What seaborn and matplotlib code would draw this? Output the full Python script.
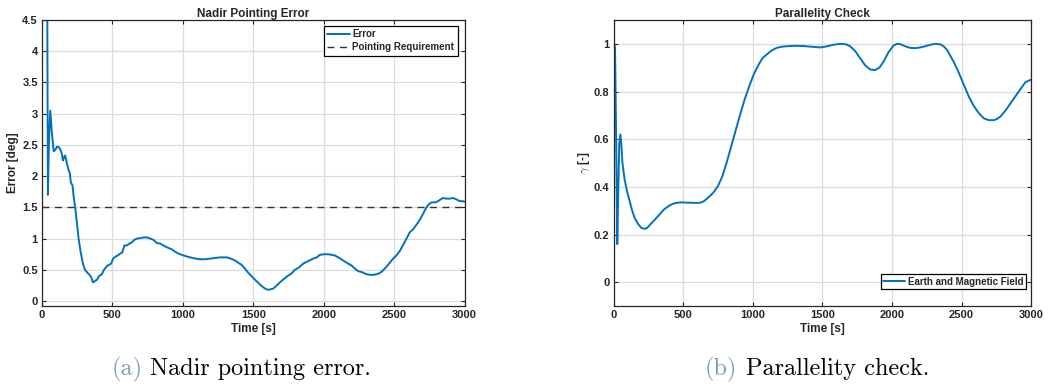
import numpy as np
import pandas as pd
import matplotlib
matplotlib.use("Agg")
import matplotlib.pyplot as plt
import seaborn as sns

# ---- data ----
t_err = [36, 38, 42, 50, 59, 70, 83, 95, 106, 115, 125, 135, 142, 149, 157, 165, 172, 177, 189,
         198, 205, 217, 226, 236, 248, 260, 275, 291, 305, 324, 338, 350, 361, 375, 390, 405, 425,
         440, 461, 475, 491, 505, 520, 538, 555, 570, 585, 602, 620, 638, 655, 673, 700, 725, 744,
         770, 791, 815, 839, 870, 898, 920, 945, 970, 992, 1020, 1051, 1090, 1122, 1160, 1193,
         1230, 1264, 1290, 1311, 1340, 1370, 1395, 1417, 1440, 1465, 1500, 1535, 1560, 1583,
         1606, 1625, 1642, 1665, 1689, 1720, 1748, 1770, 1795, 1825, 1854, 1890, 1925, 1950,
         1972, 2000, 2031, 2055, 2079, 2110, 2138, 2165, 2197, 2220, 2244, 2275, 2303, 2330,
         2350, 2375, 2398, 2420, 2445, 2470, 2492, 2515, 2539, 2563, 2587, 2610, 2634, 2657,
         2681, 2705, 2728, 2746, 2764, 2790, 2811, 2830, 2846, 2870, 2894, 2917, 2940, 2965,
         2985, 3000]
err = [4.6, 4.5, 1.70, 2.6, 3.05, 2.7, 2.40, 2.42, 2.47, 2.47, 2.45, 2.40, 2.35, 2.25, 2.30,
       2.33, 2.25, 2.20, 2.10, 2.05, 1.90, 1.85, 1.65, 1.50, 1.25, 1.00, 0.78, 0.60, 0.50, 0.45,
       0.42, 0.38, 0.30, 0.32, 0.34, 0.40, 0.43, 0.50, 0.56, 0.58, 0.60, 0.68, 0.71, 0.73, 0.76,
       0.78, 0.89, 0.89, 0.92, 0.94, 0.98, 1.00, 1.01, 1.02, 1.02, 1.00, 0.98, 0.93, 0.92, 0.88,
       0.85, 0.83, 0.79, 0.76, 0.74, 0.72, 0.70, 0.68, 0.67, 0.67, 0.68, 0.69, 0.70, 0.70,
       0.70, 0.68, 0.65, 0.61, 0.58, 0.52, 0.45, 0.37, 0.29, 0.24, 0.20, 0.18, 0.19, 0.20,
       0.25, 0.30, 0.36, 0.41, 0.44, 0.50, 0.54, 0.60, 0.64, 0.68, 0.70, 0.74, 0.75, 0.75,
       0.74, 0.73, 0.69, 0.65, 0.61, 0.57, 0.52, 0.48, 0.46, 0.43, 0.42, 0.42, 0.43, 0.45,
       0.49, 0.55, 0.62, 0.68, 0.73, 0.80, 0.90, 1.00, 1.10, 1.15, 1.22, 1.30, 1.40, 1.50,
       1.55, 1.58, 1.58, 1.60, 1.63, 1.65, 1.64, 1.64, 1.65, 1.63, 1.60, 1.60, 1.59]
requirement = 1.5

t_par = [5, 10, 18, 26, 32, 40, 48, 55, 63, 79, 97, 115, 133, 151, 175, 199, 223, 241, 259,
         295, 331, 361, 391, 421, 451, 487, 523, 571, 619, 649, 679, 715, 751, 781, 811, 835,
         859, 883, 907, 943, 979, 1009, 1039, 1069, 1099, 1135, 1171, 1207, 1243, 1303, 1363,
         1423, 1483, 1519, 1555, 1597, 1639, 1669, 1699, 1735, 1771, 1807, 1843, 1879, 1909,
         1939, 1975, 2011, 2035, 2059, 2095, 2131, 2167, 2203, 2239, 2275, 2311, 2347, 2371,
         2395, 2419, 2443, 2479, 2515, 2551, 2587, 2623, 2659, 2695, 2731, 2755, 2779, 2815,
         2851, 2887, 2923, 2960, 3000]
gamma = [1.00, 0.98, 0.60, 0.16, 0.35, 0.58, 0.62, 0.58, 0.50, 0.43, 0.38, 0.34, 0.30, 0.27,
         0.245, 0.228, 0.224, 0.228, 0.24, 0.262, 0.285, 0.305, 0.318, 0.328, 0.333, 0.335,
         0.334, 0.333, 0.333, 0.340, 0.355, 0.375, 0.405, 0.445, 0.50, 0.55, 0.60, 0.65, 0.70,
         0.77, 0.83, 0.875, 0.91, 0.94, 0.955, 0.972, 0.983, 0.988, 0.990, 0.992, 0.991, 0.988,
         0.985, 0.988, 0.993, 0.998, 1.000, 0.998, 0.99, 0.97, 0.94, 0.91, 0.893, 0.89, 0.90,
         0.925, 0.965, 0.993, 1.000, 0.999, 0.99, 0.983, 0.982, 0.985, 0.99, 0.996, 1.000,
         0.998, 0.99, 0.975, 0.95, 0.925, 0.88, 0.83, 0.78, 0.74, 0.71, 0.688, 0.68, 0.68,
         0.685, 0.695, 0.72, 0.75, 0.78, 0.81, 0.84, 0.85]

df_err = pd.DataFrame({"Time [s]": t_err, "Error [deg]": err})
df_par = pd.DataFrame({"Time [s]": t_par, "gamma": gamma})

sns.set_theme(style="whitegrid")
plt.rcParams["font.family"] = ["Liberation Sans", "DejaVu Sans"]
plt.rcParams["mathtext.fontset"] = "cm"

blue = "#0072BD"
fig = plt.figure(figsize=(10.49, 3.85), dpi=100)
fig.patch.set_facecolor("white")
ax1 = fig.add_axes([0.040, 0.205, 0.403, 0.743])
ax2 = fig.add_axes([0.585, 0.205, 0.398, 0.743])

sns.lineplot(data=df_err, x="Time [s]", y="Error [deg]", ax=ax1, color=blue, lw=1.4,
             label="Error", sort=False)
ax1.axhline(requirement, color="#333333", lw=1.0, ls=(0, (5, 4)), label="Pointing Requirement")
ax1.set_xlim(0, 3000)
ax1.set_ylim(-0.08, 4.5)
ax1.set_yticks(np.arange(0, 4.51, 0.5))
ax1.set_yticklabels(["0", "0.5", "1", "1.5", "2", "2.5", "3", "3.5", "4", "4.5"])
ax1.set_title("Nadir Pointing Error", fontsize=8.5, fontweight="bold", pad=2)
ax1.set_ylabel("Error [deg]", fontsize=8.5, fontweight="bold", labelpad=2)
ax1.set_xlabel("Time [s]", fontsize=8.5, fontweight="bold", labelpad=2)
leg1 = ax1.legend(loc="upper right", bbox_to_anchor=(1 - 7 / 423, 1 - 6 / 286),
                  borderaxespad=0, fontsize=7, frameon=True, fancybox=False,
                  borderpad=0.35, handlelength=2.3, handletextpad=0.3, labelspacing=0.3)

sns.lineplot(data=df_par, x="Time [s]", y="gamma", ax=ax2, color=blue, lw=1.4,
             label="Earth and Magnetic Field", sort=False)
ax2.set_xlim(0, 3000)
ax2.set_ylim(-0.1, 1.1)
ax2.set_yticks([0, 0.2, 0.4, 0.6, 0.8, 1.0])
ax2.set_yticklabels(["0", "0.2", "0.4", "0.6", "0.8", "1"])
ax2.set_title("Parallelity Check", fontsize=8.5, fontweight="bold", pad=2)
ax2.set_ylabel(r"$\gamma$ [-]", fontsize=8.5, fontweight="bold", labelpad=1)
ax2.set_xlabel("Time [s]", fontsize=8.5, fontweight="bold", labelpad=2)
leg2 = ax2.legend(loc="lower right", bbox_to_anchor=(1 - 5 / 417, 17 / 286),
                  borderaxespad=0, fontsize=7, frameon=True, fancybox=False,
                  borderpad=0.25, handlelength=2.3, handletextpad=0.3)

for ax, leg in ((ax1, leg1), (ax2, leg2)):
    ax.set_xticks([0, 500, 1000, 1500, 2000, 2500, 3000])
    ax.set_facecolor("white")
    ax.grid(True, color="#dcdcdc", lw=0.9)
    for s in ax.spines.values():
        s.set_visible(True)
        s.set_color("#262626")
        s.set_linewidth(0.9)
    ax.tick_params(axis="both", which="both", direction="in", length=3, width=0.8,
                   color="#262626", labelsize=8, top=True, right=True, pad=3,
                   bottom=True, left=True)
    for lab in ax.get_xticklabels() + ax.get_yticklabels():
        lab.set_fontweight("bold")
        lab.set_color("#262626")
    fr = leg.get_frame()
    fr.set_edgecolor("#000000")
    fr.set_linewidth(0.9)
    fr.set_alpha(1)
    for txt in leg.get_texts():
        txt.set_fontweight("bold")
    ax.xaxis.label.set_color("#262626")
    ax.yaxis.label.set_color("#262626")

# captions
W, H = 1049, 385
cap_kw = dict(fontsize=17.5, family="cmr10", va="center")
cap_y = 1 - 369 / H
fig.text(112 / W, cap_y, "(a)", color="#7c9ab8", ha="left", **cap_kw)
fig.text(150 / W, cap_y, "Nadir pointing error.", color="black", ha="left", **cap_kw)
fig.text(705 / W, cap_y, "(b)", color="#7c9ab8", ha="left", **cap_kw)
fig.text(746 / W, cap_y, "Parallelity check.", color="black", ha="left", **cap_kw)

fig.savefig("out.png", dpi=100, facecolor="white")
